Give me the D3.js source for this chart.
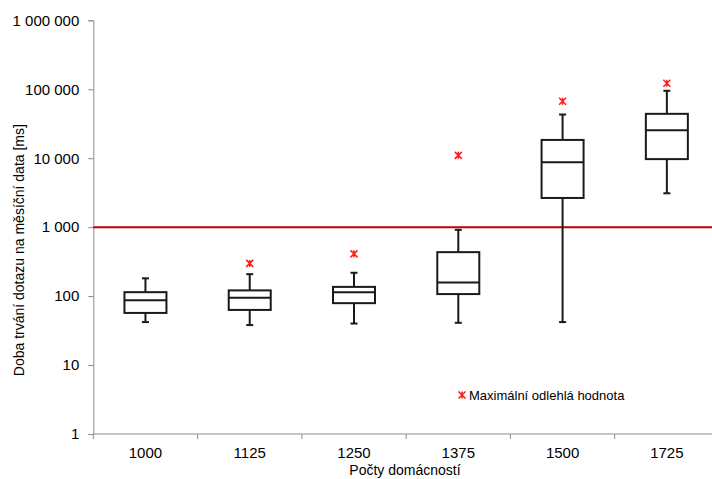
<!DOCTYPE html>
<html>
<head>
<meta charset="utf-8">
<script src="https://cdn.jsdelivr.net/npm/d3@7"></script>
<style>
  body { margin: 0; background: #fff; }
  svg { display: block; font-family: "Liberation Sans", Arial, sans-serif; }
</style>
</head>
<body>
<div id="chart"></div>
<script>
// categories (number of households) and box statistics [ms]
const categories = ["1000", "1125", "1250", "1375", "1500", "1725"];
const whiskerLow = [42, 38, 40, 41, 42, 3100];
const q1 = [57, 63, 79, 107, 2650, 9700];
const median = [87, 95, 114, 158, 8700, 25500];
const q3 = [114, 121, 136, 434, 18400, 44000];
const whiskerHigh = [181, 208, 218, 914, 43000, 95000];
const maxOutlier = [null, 298, 410, 11000, 67000, 122000];
const threshold = 1000;
const yTicks = [1, 10, 100, 1000, 10000, 100000, 1000000];

const width = 712, height = 479;
const margin = {top: 20.3, left: 93.3, bottom: 45};
const plotRight = 719; // axis runs past the image edge

const svg = d3.select("#chart")
  .append("svg")
  .attr("width", width)
  .attr("height", height);

const x = d3.scaleBand()
  .domain(categories)
  .range([margin.left, plotRight]);

const y = d3.scaleLog()
  .domain([1, 1000000])
  .range([height - margin.bottom, margin.top]);

const fmt = d3.formatLocale({decimal: ",", thousands: " ", grouping: [3], currency: ["", ""]}).format(",d");
const axisColor = "#8c8c8c";

// Y axis
const yAxis = svg.append("g")
  .attr("transform", `translate(${margin.left},0)`)
  .call(d3.axisLeft(y).tickValues(yTicks).tickFormat(fmt).tickSizeOuter(0).tickSize(5).tickPadding(9));
yAxis.select(".domain").attr("stroke", axisColor);
yAxis.selectAll(".tick line").attr("stroke", axisColor);
yAxis.selectAll("text").style("font-size", "15px").attr("fill", "#000");

// X axis line + boundary ticks
const x0 = y(1);
svg.append("line")
  .attr("x1", margin.left).attr("x2", plotRight)
  .attr("y1", x0).attr("y2", x0)
  .attr("stroke", axisColor);
svg.selectAll(".xtick")
  .data(categories)
  .join("line")
  .attr("x1", d => x(d)).attr("x2", d => x(d))
  .attr("y1", x0).attr("y2", x0 + 5)
  .attr("stroke", axisColor);

const xAxis = svg.append("g")
  .attr("transform", `translate(0,${x0})`)
  .call(d3.axisBottom(x).tickSize(0).tickPadding(13));
xAxis.select(".domain").remove();
xAxis.selectAll("text").style("font-size", "15px").attr("fill", "#000");

// axis titles
svg.append("text")
  .attr("x", 405).attr("y", 475)
  .attr("text-anchor", "middle")
  .style("font-size", "14px")
  .text("Počty domácností");

svg.append("text")
  .attr("transform", `translate(24,${(margin.top + x0) / 2 + 23}) rotate(-90)`)
  .attr("text-anchor", "middle")
  .style("font-size", "14px")
  .text("Doba trvání dotazu na měsíční data [ms]");

// threshold line
svg.append("line")
  .attr("x1", margin.left).attr("x2", width)
  .attr("y1", y(threshold)).attr("y2", y(threshold))
  .attr("stroke", "#c00000")
  .attr("stroke-width", 2);

// boxes
const boxW = 42, capW = 7;
const cx = i => x(categories[i]) + x.bandwidth() / 2;
const boxColor = "#1a1a1a";

const g = svg.append("g")
  .attr("stroke", boxColor)
  .attr("stroke-width", 2)
  .attr("fill", "none");

categories.forEach((c, i) => {
  const c0 = cx(i);
  g.append("line")
    .attr("x1", c0).attr("x2", c0)
    .attr("y1", y(whiskerLow[i])).attr("y2", y(whiskerHigh[i]));
  [whiskerLow[i], whiskerHigh[i]].forEach(v => {
    g.append("line")
      .attr("x1", c0 - capW / 2).attr("x2", c0 + capW / 2)
      .attr("y1", y(v)).attr("y2", y(v));
  });
  g.append("rect")
    .attr("x", c0 - boxW / 2)
    .attr("y", y(q3[i]))
    .attr("width", boxW)
    .attr("height", y(q1[i]) - y(q3[i]))
    .attr("fill", "#fff");
  g.append("line")
    .attr("x1", c0 - boxW / 2).attr("x2", c0 + boxW / 2)
    .attr("y1", y(median[i])).attr("y2", y(median[i]));
});

// outlier star markers (x + vertical stroke, Excel style)
const star = (sel, px, py) => {
  const s = 3.5;
  sel.append("path")
    .attr("d", `M${px - s},${py - s}L${px + s},${py + s}M${px - s},${py + s}L${px + s},${py - s}M${px},${py - s}L${px},${py + s}`)
    .attr("stroke", "#ff1a1a")
    .attr("stroke-width", 1.5)
    .attr("fill", "none");
};

maxOutlier.forEach((v, i) => {
  if (v != null) star(svg, cx(i), y(v));
});

// legend
star(svg, 462, 395);
svg.append("text")
  .attr("x", 469).attr("y", 400)
  .style("font-size", "13px")
  .text("Maximální odlehlá hodnota");
</script>
</body>
</html>
